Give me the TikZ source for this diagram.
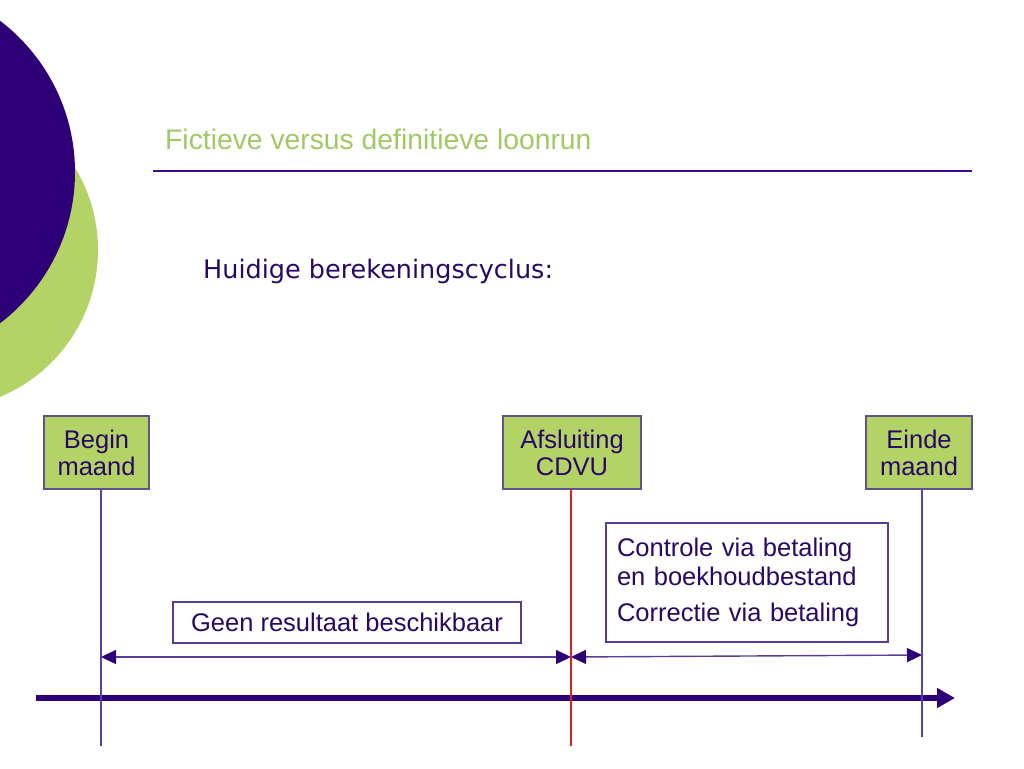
\documentclass[tikz,border=0pt]{standalone}
\usepackage{fontspec}
\setmainfont{Liberation Sans}
\newfontfamily\verdanafont{DejaVu Sans}
\usetikzlibrary{arrows.meta}

\begin{document}
\begin{tikzpicture}[x=1pt,y=1pt,yscale=-1,
  datebox/.style={draw={rgb, 255:red, 96; green, 82; blue, 140 },line width=1.2pt,fill={rgb, 255:red, 180; green, 211; blue, 102 },minimum width=#1,minimum height=73pt,inner sep=0pt,align=center,font=\fontsize{25.5}{27}\selectfont,text={rgb, 255:red, 40; green, 8; blue, 100 }},
  notebox/.style={draw={rgb, 255:red, 88; green, 60; blue, 150 },line width=1.2pt,fill=white,inner sep=0pt,font=\fontsize{25.5}{29}\selectfont,text={rgb, 255:red, 40; green, 8; blue, 100 }},
  tick/.style={draw={rgb, 255:red, 90; green, 62; blue, 160 },line width=1.4pt},
  span/.style={draw={rgb, 255:red, 88; green, 60; blue, 150 },line width=1.4pt,{Triangle[length=15pt,width=14pt,color={rgb, 255:red, 46; green, 0; blue, 120 }]}-{Triangle[length=15pt,width=14pt,color={rgb, 255:red, 46; green, 0; blue, 120 }]}}
]
\useasboundingbox (0,0) rectangle (1024,768);
\clip (0,0) rectangle (1024,768);

%Shape: Circle
\fill [color={rgb, 255:red, 180; green, 211; blue, 102 }] (-61,250) circle (159);
%Shape: Circle
\fill [color={rgb, 255:red, 46; green, 0; blue, 120 }] (-115,172) circle (190);

% Text Node
\node (title) [anchor=base west,inner sep=0pt,font=\fontsize{28.3}{32}\selectfont,text={rgb, 255:red, 160; green, 200; blue, 100 }] at (165,149) {Fictieve versus definitieve loonrun};
%Straight Lines
\coordinate (rule l) at (153,171);
\coordinate (rule r) at (972,171);
\draw [color={rgb, 255:red, 60; green, 10; blue, 140 },line width=1.2pt] (rule l) -- (rule r);

% Text Node
\node (cycle) [anchor=base west,inner sep=0pt,font=\verdanafont\fontsize{25.5}{30}\selectfont,text={rgb, 255:red, 40; green, 8; blue, 100 }] at (203,278) {Huidige berekeningscyclus:};

%Shape: Rectangle
\node (begin) [datebox=105pt] at (96.5,452.5) {Begin\\maand};
\node (cdvu) [datebox=138pt] at (572,452.5) {Afsluiting\\CDVU};
\node (einde) [datebox=106pt] at (919,452.5) {Einde\\maand};

\node (geen) [notebox,minimum width=348pt,minimum height=41pt] at (347,622.5) {Geen resultaat beschikbaar};
\node (controle) [notebox,minimum width=282pt,minimum height=119pt,text width=260pt,inner xsep=11pt,align=left] at (747,582.5) {Controle via betaling\\en boekhoudbestand\\[7pt]Correctie via betaling};

%Straight Lines
\coordinate (axis l) at (36,698);
\coordinate (axis r) at (955,698);
\draw [color={rgb, 255:red, 46; green, 0; blue, 120 },line width=6.5pt,-{Triangle[length=18pt,width=19pt]}] (axis l) -- (axis r);

\coordinate (a1) at (101,657);
\coordinate (a2) at (571,657);
\coordinate (a3) at (922,655);
\draw [span] (a1) -- (a2);
\draw [span] (a2) -- (a3);

\coordinate (begin end) at (101,746);
\coordinate (cdvu end) at (571,746);
\coordinate (einde end) at (922,737);
\draw [tick] (begin.south -| a1) -- (begin end);
\draw [color={rgb, 255:red, 226; green, 30; blue, 30 },line width=1.6pt] (cdvu.south -| a2) -- (cdvu end);
\draw [tick] (einde.south -| a3) -- (einde end);

\end{tikzpicture}
\end{document}
